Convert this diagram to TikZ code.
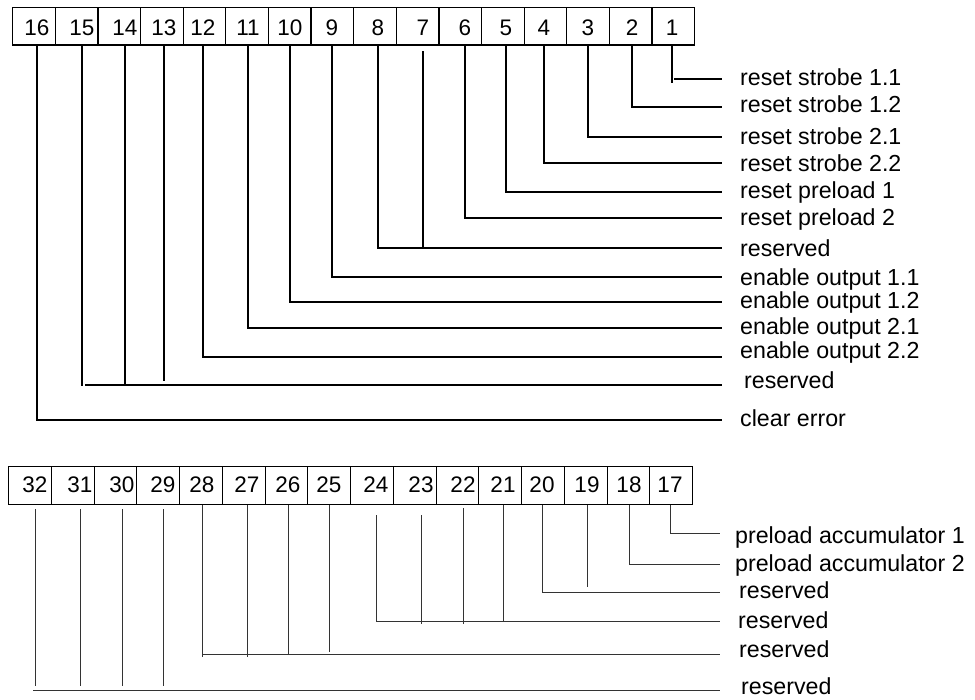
\documentclass[tikz,border=0pt]{standalone}
\usepackage{fontspec}
\setmainfont{Liberation Sans}
\usetikzlibrary{calc}
\begin{document}
\begin{tikzpicture}[x=1pt,y=-1pt,
  ubox/.style={draw,line width=1.3pt,minimum width=42.625pt,minimum height=37.5pt,inner sep=0pt,anchor=north west},
  lbox/.style={draw,line width=1pt,minimum width=42.75pt,minimum height=38pt,inner sep=0pt,anchor=north west},
  num/.style={inner sep=0pt,font=\fontsize{22.5}{27}\selectfont},
  lab/.style={inner sep=0pt,anchor=base west,font=\fontsize{23.2}{28}\selectfont},
  uline/.style={line width=1.3pt,black},
  lline/.style={line width=1pt,black!80}]
\useasboundingbox (0,0) rectangle (975,700);
% ---------- upper register ----------
\foreach \b/\lx [count=\k from 0] in {16/37,15/82,14/125,13/164,12/203,11/248,10/290,9/332,8/378,7/423,6/465,5/506,4/544,3/588,2/632,1/672}{
  \node[ubox] (b\b) at ({12+\k*42.625},7) {};
  \node[num] (n\b) at (\lx,28) {\b};
}
\node[lab] (l1) at (740,86) {reset strobe 1.1};
\node[lab] (l2) at (740,113) {reset strobe 1.2};
\node[lab] (l3) at (740,145) {reset strobe 2.1};
\node[lab] (l4) at (740,172) {reset strobe 2.2};
\node[lab] (l5) at (740,199) {reset preload 1};
\node[lab] (l6) at (740,226) {reset preload 2};
\node[lab] (l7) at (740,257) {reserved};
\node[lab] (l9) at (740,286) {enable output 1.1};
\node[lab] (l10) at (740,309) {enable output 1.2};
\node[lab] (l11) at (740,335) {enable output 2.1};
\node[lab] (l12) at (740,359) {enable output 2.2};
\node[lab] (l13) at (744,389) {reserved};
\node[lab] (l16) at (740,427) {clear error};
\coordinate (e1) at (722,79);
\coordinate (e2) at (722,107);
\coordinate (e3) at (722,137);
\coordinate (e4) at (722,163);
\coordinate (e5) at (722,192);
\coordinate (e6) at (722,218);
\coordinate (e7) at (722,248);
\coordinate (e9) at (722,277);
\coordinate (e10) at (722,302);
\coordinate (e11) at (722,328);
\coordinate (e12) at (722,357);
\coordinate (e13) at (722,385);
\coordinate (e16) at (722,420);
\draw[uline] (n1|-b1.south) -- ($(n1|-e1)+(0,4)$);
\draw[uline] ($(n1|-e1)+(2,0)$) -- (e1);
\foreach \b in {2,3,4,5,6,9,10,11,12,16}{
  \draw[uline] (n\b|-b\b.south) |- (e\b);
}
\draw[uline] (n8|-b8.south) |- (e7);
\draw[uline] ($(n7|-b7.south)+(0,5.5)$) -- (n7|-e7);
\draw[uline] (n15|-b15.south) -- ($(n15|-e13)+(0,1)$);
\draw[uline] ($(n15|-e13)+(3,0)$) -- (e13);
\draw[uline] (n14|-b14.south) -- (n14|-e13);
\draw[uline] (n13|-b13.south) -- ($(n13|-e13)+(0,-4)$);
% ---------- lower register ----------
\foreach \b/\lx [count=\k from 0] in {32/35,31/80,30/122,29/163,28/202,27/247,26/288,25/329,24/376,23/421,22/463,21/503,20/542,19/587,18/629,17/670}{
  \node[lbox] (b\b) at ({8+\k*42.75},466) {};
  \node[num] (n\b) at (\lx,485) {\b};
}
\node[lab] (l17) at (735,543) {preload accumulator 1};
\node[lab] (l18) at (735,571) {preload accumulator 2};
\node[lab] (l19) at (739,598) {reserved};
\node[lab] (l21) at (738,628) {reserved};
\node[lab] (l25) at (739,657) {reserved};
\node[lab] (l29) at (741,694) {reserved};
\coordinate (e17) at (720,533);
\coordinate (e18) at (720,564);
\coordinate (e19) at (720,592);
\coordinate (e21) at (720,621);
\coordinate (e25) at (720,654);
\coordinate (e29) at (720,690);
\draw[lline] (n17|-b17.south) |- (e17);
\draw[lline] (n18|-b18.south) |- (e18);
\draw[lline] (n20|-b20.south) |- (e19);
\draw[lline] (n19|-b19.south) -- ($(n19|-e19)+(0,-5)$);
\draw[lline] ($(n24|-b24.south)+(0,10)$) |- (e21);
\draw[lline] ($(n23|-b23.south)+(0,10)$) -- ($(n23|-e21)+(0,3)$);
\draw[lline] ($(n22|-b22.south)+(0,3)$) -- ($(n22|-e21)+(0,3)$);
\draw[lline] (n21|-b21.south) -- (n21|-e21);
\draw[lline] (n28|-b28.south) -- ($(n28|-e25)+(0,3)$);
\draw[lline] (n28|-e25) -- (e25);
\draw[lline] (n27|-b27.south) -- ($(n27|-e25)+(0,3)$);
\draw[lline] (n26|-b26.south) -- (n26|-e25);
\draw[lline] (n25|-b25.south) -- ($(n25|-e25)+(0,-2)$);
\draw[lline] ($(n32|-e29)+(-2,0)$) -- (e29);
\foreach \b in {32,31,30,29}{
  \draw[lline] ($(n\b|-b\b.south)+(0,4)$) -- ($(n\b|-e29)+(0,-4.5)$);
}
\end{tikzpicture}
\end{document}
